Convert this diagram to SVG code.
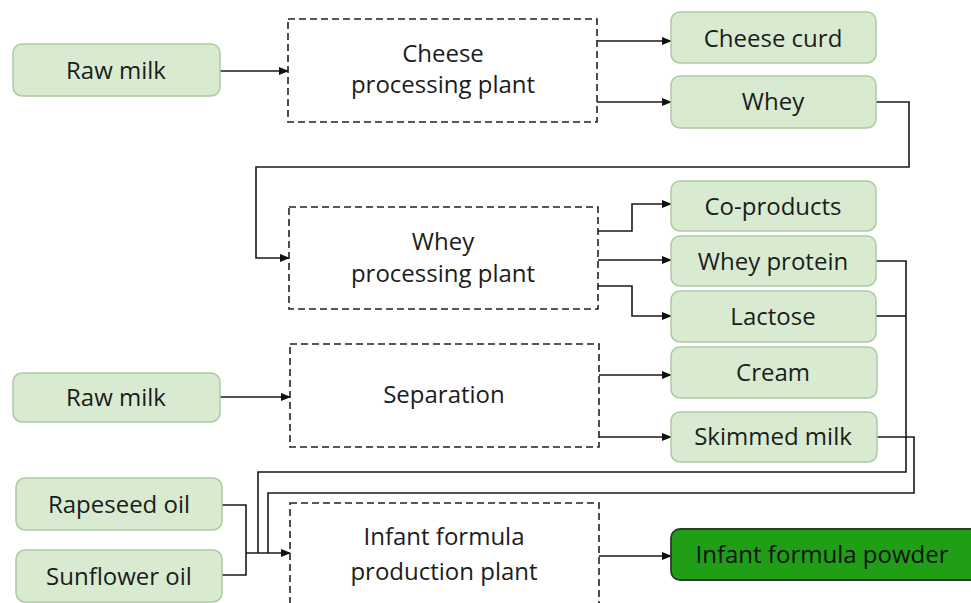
<svg xmlns="http://www.w3.org/2000/svg" width="971" height="603" viewBox="0 0 971 603">
<defs>
<marker id="ah" markerWidth="10" markerHeight="8" refX="9" refY="4" orient="auto" markerUnits="userSpaceOnUse">
<path d="M0,0 L10,4 L0,8 Z" fill="#111"/>
</marker>
<style>
.nb{fill:#d8ebd1;stroke:#adc9a4;stroke-width:1.5}
.pb{fill:#fff;stroke:#222;stroke-width:1.6;stroke-dasharray:7,4}
.fb{fill:#1f9e16;stroke:#2b3a2b;stroke-width:1.8}
.t{font-family:"Open Sans","Noto Sans",sans-serif;font-size:24px;fill:#1c1c1c;text-anchor:middle}
.c{fill:none;stroke:#1a1a1a;stroke-width:1.6}
.ca{fill:none;stroke:#1a1a1a;stroke-width:1.6;marker-end:url(#ah)}
</style>
</defs>
<rect width="971" height="603" fill="#fff"/>
<g id="connectors">
<path class="ca" d="M220,71 H288"/>
<path class="ca" d="M597,41 H671"/>
<path class="ca" d="M597,102 H671"/>
<path class="ca" d="M876,102 H909 V167 H256 V258 H289"/>
<path class="ca" d="M598,231 H632 V204 H671"/>
<path class="ca" d="M598,260 H671"/>
<path class="ca" d="M598,286 H632 V316 H671"/>
<path class="ca" d="M220,397 H290"/>
<path class="ca" d="M599,375 H671"/>
<path class="ca" d="M599,437 H671"/>
<path class="c" d="M876,261 H906 V472 H258 V553"/>
<path class="c" d="M876,316 H906"/>
<path class="c" d="M876,437 H914 V493 H268 V553"/>
<path class="c" d="M222,505 H246 V575 H222"/>
<path class="ca" d="M246,553 H290"/>
<path class="ca" d="M599,556 H671"/>
</g>
<g id="raw-milk-1"><rect class="nb" x="13" y="44" width="207" height="52" rx="9"/><text class="t" x="116" y="79">Raw milk</text></g>
<g id="cheese-plant"><rect class="pb" x="288" y="19" width="309" height="103"/><text class="t" x="443" y="62">Cheese</text><text class="t" x="443" y="93">processing plant</text></g>
<g id="cheese-curd"><rect class="nb" x="671" y="12" width="205" height="51" rx="9"/><text class="t" x="773" y="47">Cheese curd</text></g>
<g id="whey"><rect class="nb" x="671" y="76" width="205" height="52" rx="9"/><text class="t" x="773" y="110">Whey</text></g>
<g id="whey-plant"><rect class="pb" x="289" y="207" width="309" height="102"/><text class="t" x="443" y="250">Whey</text><text class="t" x="443" y="282">processing plant</text></g>
<g id="co-products"><rect class="nb" x="671" y="181" width="205" height="50" rx="9"/><text class="t" x="773" y="215">Co-products</text></g>
<g id="whey-protein"><rect class="nb" x="671" y="236" width="205" height="50" rx="9"/><text class="t" x="773" y="270">Whey protein</text></g>
<g id="lactose"><rect class="nb" x="671" y="291" width="205" height="51" rx="9"/><text class="t" x="773" y="325">Lactose</text></g>
<g id="raw-milk-2"><rect class="nb" x="13" y="373" width="207" height="49" rx="9"/><text class="t" x="116" y="406">Raw milk</text></g>
<g id="separation"><rect class="pb" x="290" y="344" width="309" height="103"/><text class="t" x="444" y="403">Separation</text></g>
<g id="cream"><rect class="nb" x="671" y="347" width="206" height="51" rx="9"/><text class="t" x="773" y="381">Cream</text></g>
<g id="skimmed-milk"><rect class="nb" x="671" y="412" width="206" height="50" rx="9"/><text class="t" x="773" y="445">Skimmed milk</text></g>
<g id="rapeseed-oil"><rect class="nb" x="16" y="478" width="206" height="52" rx="9"/><text class="t" x="119" y="513">Rapeseed oil</text></g>
<g id="sunflower-oil"><rect class="nb" x="16" y="550" width="206" height="52" rx="9"/><text class="t" x="119" y="585">Sunflower oil</text></g>
<g id="infant-plant"><rect class="pb" x="290" y="503" width="309" height="110"/><text class="t" x="444" y="545">Infant formula</text><text class="t" x="444" y="580">production plant</text></g>
<g id="infant-powder"><rect class="fb" x="671" y="529" width="310" height="51" rx="9"/><text class="t" x="822" y="563" style="fill:#111">Infant formula powder</text></g>
</svg>
